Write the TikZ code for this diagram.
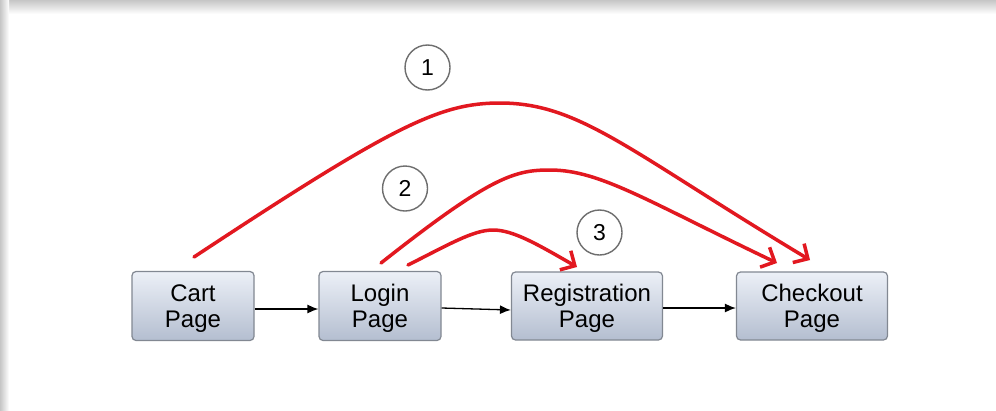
\documentclass[tikz,border=0pt]{standalone}
\usepackage{fontspec}
\setmainfont{Liberation Sans}
\usetikzlibrary{arrows.meta}
\definecolor{flowred}{RGB}{226,24,32}
\definecolor{boxtop}{RGB}{236,240,247}
\definecolor{boxbot}{RGB}{180,190,208}
\definecolor{boxline}{RGB}{130,136,146}
\definecolor{ringline}{RGB}{110,110,110}
\tikzset{
  pagebox/.style={draw=boxline, line width=1.2pt, rounded corners=4pt,
    top color=boxtop, bottom color=boxbot, align=center,
    font=\fontsize{24}{26}\selectfont, inner sep=0pt},
  flow/.style={-{Latex[length=11pt,width=9pt]}, line width=1.3pt, black},
  jump/.style={-{Straight Barb[length=11pt,width=22pt]}, line width=3.5pt,
    flowred, line cap=round},
  ring/.style={circle, draw=ringline, line width=1.4pt, minimum size=45pt,
    inner sep=0pt, font=\fontsize{23}{24}\selectfont}
}
\newcommand{\topstrut}{\rule{0pt}{21pt}}
\begin{document}
\begin{tikzpicture}[x=1pt,y=-1pt]
  \useasboundingbox (0,0) rectangle (996,410);
  % sheet with a soft grey edge along the top and left
  \fill[white] (0,0) rectangle (996,410);
  \shade[top color=gray!45, bottom color=white] (0,0) rectangle (996,14);
  \shade[left color=gray!45, right color=white] (0,0) rectangle (9,410);
  \fill[white] (9,14) rectangle (996,410);

  % pages
  \node[pagebox, minimum width=122pt, minimum height=69pt] (cart) at (193,306) {\topstrut Cart\\Page};
  \node[pagebox, minimum width=122pt, minimum height=69pt] (login) at (380,306) {\topstrut Login\\Page};
  \node[pagebox, minimum width=151pt, minimum height=68pt] (reg) at (587,306) {\topstrut Registration\\Page};
  \node[pagebox, minimum width=151pt, minimum height=68pt] (checkout) at (812,306) {\topstrut Checkout\\Page};

  % regular flow
  \draw[flow] ([yshift=-3pt]cart.east) -- ([yshift=-3pt]login.west);
  \draw[flow] ([yshift=-2pt]login.east) -- ([yshift=-4pt]reg.west);
  \draw[flow] ([yshift=-2pt]reg.east) -- ([yshift=-2pt]checkout.west);

  % end points of the shortcut arcs
  \coordinate (s1) at (194,257);
  \coordinate (e1) at (810,260);
  \coordinate (s2) at (381,263);
  \coordinate (e2) at (777,263);
  \coordinate (s3) at (408,265);
  \coordinate (e3) at (577,267);

  % shortcut arcs
  \draw[jump] (s1) .. controls (394,125) and (440,103) .. (500,103)
                   .. controls (580,103) and (630,152) .. (e1);
  \draw[jump] (s2) .. controls (491,176) and (515,170) .. (550,170)
                   .. controls (600,170) and (647,201) .. (e2);
  \draw[jump] (s3) .. controls (448,245) and (473,230) .. (493,230)
                   .. controls (513,230) and (537,244) .. (e3);

  % numbered markers
  \node[ring] (n1) at (427.5,67.5) {1};
  \node[ring] (n2) at (405,188.5) {2};
  \node[ring] (n3) at (599.5,232.5) {3};
\end{tikzpicture}
\end{document}
